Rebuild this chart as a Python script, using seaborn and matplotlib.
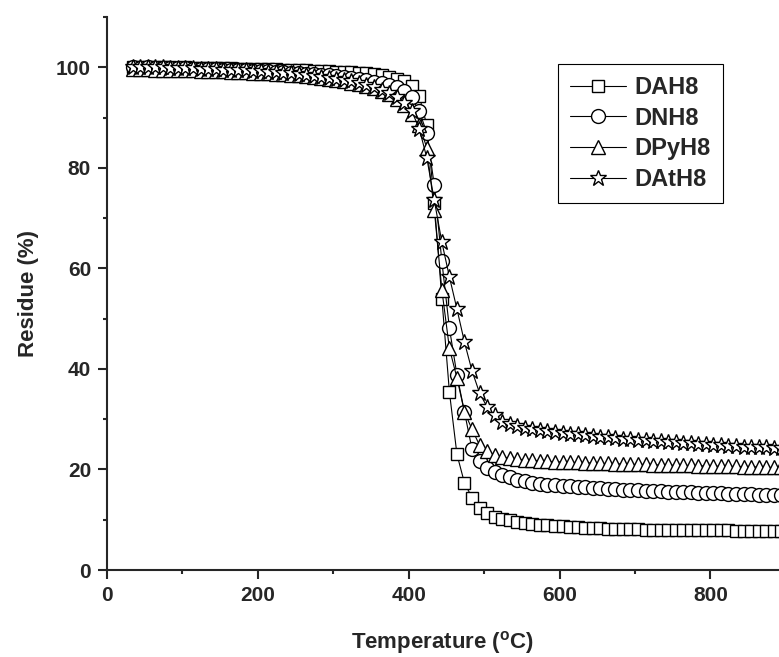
# TGA residue curves for the four H8 samples
import numpy as np
import pandas as pd
import matplotlib
matplotlib.use('Agg')
import matplotlib.pyplot as plt
from matplotlib.lines import Line2D
from matplotlib.ticker import MultipleLocator
import seaborn as sns

# --- data ---
temperature = [34, 44, 54, 64, 74, 84, 94, 104, 114, 124,
               134, 144, 154, 164, 174, 184, 194, 204, 214, 224,
               234, 244, 254, 264, 274, 284, 294, 304, 314, 324,
               334, 344, 354, 364, 374, 384, 394, 404, 414, 424,
               434, 444, 454, 464, 474, 484, 494, 504, 514, 524,
               534, 544, 554, 564, 574, 584, 594, 604, 614, 624,
               634, 644, 654, 664, 674, 684, 694, 704, 714, 724,
               734, 744, 754, 764, 774, 784, 794, 804, 814, 824,
               834, 844, 854, 864, 874, 884, 894, 904]

dah8 = [100.0, 100.1, 100.0, 100.0, 100.1, 100.0, 99.9, 100.0, 99.9, 99.9,
        99.9, 99.8, 99.8, 99.8, 99.7, 99.7, 99.7, 99.6, 99.6, 99.6,
        99.5, 99.5, 99.4, 99.4, 99.3, 99.3, 99.2, 99.1, 99.1, 99.0,
        98.9, 98.8, 98.6, 98.4, 98.1, 97.7, 97.2, 96.3, 94.3, 88.5,
        73.0, 54.0, 35.4, 23.0, 17.3, 14.4, 12.4, 11.3, 10.6, 10.2,
        9.9, 9.6, 9.4, 9.2, 9.0, 8.9, 8.8, 8.7, 8.6, 8.5,
        8.4, 8.3, 8.3, 8.2, 8.2, 8.1, 8.1, 8.1, 8.0, 8.0,
        8.0, 8.0, 8.0, 7.9, 7.9, 7.9, 7.9, 7.9, 7.9, 7.9,
        7.8, 7.8, 7.8, 7.8, 7.8, 7.8, 7.8, 7.8]

dnh8 = [100.0, 99.9, 100.0, 99.9, 99.9, 99.8, 99.8, 99.8, 99.7, 99.7,
        99.6, 99.6, 99.5, 99.5, 99.4, 99.4, 99.3, 99.2, 99.2, 99.1,
        99.0, 98.9, 98.8, 98.7, 98.6, 98.5, 98.4, 98.2, 98.0, 97.8,
        97.6, 97.4, 97.1, 96.8, 96.5, 96.0, 95.3, 94.0, 91.3, 87.0,
        76.5, 61.4, 48.1, 38.8, 31.4, 24.0, 21.6, 20.3, 19.5, 18.9,
        18.4, 18.0, 17.7, 17.4, 17.2, 17.0, 16.9, 16.8, 16.7, 16.6,
        16.5, 16.4, 16.3, 16.2, 16.1, 16.0, 16.0, 15.9, 15.8, 15.8,
        15.7, 15.6, 15.6, 15.5, 15.5, 15.4, 15.4, 15.3, 15.3, 15.2,
        15.2, 15.1, 15.1, 15.0, 15.0, 14.9, 14.9, 14.8]

dpyh8 = [99.6, 99.6, 99.6, 99.5, 99.5, 99.5, 99.4, 99.4, 99.4, 99.3,
         99.3, 99.2, 99.2, 99.1, 99.1, 99.0, 98.9, 98.9, 98.8, 98.7,
         98.6, 98.5, 98.4, 98.3, 98.1, 97.9, 97.7, 97.5, 97.2, 96.9,
         96.6, 96.2, 95.8, 95.3, 94.6, 93.7, 92.5, 90.8, 88.5, 84.0,
         71.6, 55.7, 44.1, 38.2, 31.4, 28.0, 24.8, 23.6, 22.9, 22.5,
         22.2, 22.0, 21.9, 21.8, 21.7, 21.6, 21.5, 21.5, 21.4, 21.4,
         21.3, 21.3, 21.2, 21.2, 21.1, 21.1, 21.0, 21.0, 21.0, 20.9,
         20.9, 20.9, 20.8, 20.8, 20.8, 20.7, 20.7, 20.7, 20.6, 20.6,
         20.6, 20.5, 20.5, 20.5, 20.4, 20.4, 20.4, 20.3]

dath8 = [100.0, 100.1, 100.0, 100.1, 100.0, 99.9, 99.9, 99.8, 99.8, 99.7,
         99.6, 99.6, 99.5, 99.5, 99.4, 99.4, 99.3, 99.2, 99.1, 99.0,
         98.9, 98.8, 98.6, 98.5, 98.3, 98.1, 97.9, 97.7, 97.5, 97.2,
         96.9, 96.5, 96.0, 95.5, 94.8, 94.0, 92.9, 91.3, 87.8, 82.0,
         73.5, 65.2, 58.3, 51.9, 45.3, 39.6, 35.2, 32.4, 30.8, 29.5,
         29.0, 28.6, 28.3, 28.0, 27.8, 27.6, 27.4, 27.2, 27.1, 27.0,
         26.8, 26.7, 26.5, 26.4, 26.2, 26.1, 26.0, 25.9, 25.8, 25.7,
         25.6, 25.5, 25.4, 25.3, 25.2, 25.1, 25.0, 24.9, 24.8, 24.7,
         24.6, 24.5, 24.5, 24.4, 24.4, 24.3, 24.3, 24.2]

samples = ['DAH8', 'DNH8', 'DPyH8', 'DAtH8']
markers = {'DAH8': 's', 'DNH8': 'o', 'DPyH8': '^', 'DAtH8': '*'}
marker_sizes = {'DAH8': 9, 'DNH8': 10, 'DPyH8': 10, 'DAtH8': 12}

df = pd.DataFrame({
    'Temperature': temperature * 4,
    'Residue': dah8 + dnh8 + dpyh8 + dath8,
    'Sample': np.repeat(samples, len(temperature)),
})

# --- style ---
sns.set_style('ticks')
plt.rcParams['font.family'] = ['Liberation Sans', 'DejaVu Sans']
plt.rcParams['font.weight'] = 'bold'
plt.rcParams['mathtext.fontset'] = 'custom'
plt.rcParams['mathtext.rm'] = 'Liberation Sans:bold'

fig = plt.figure(figsize=(7.79, 6.57), dpi=100)
# the original is cropped on the right, so the axes simply ends at the figure edge
ax = fig.add_axes([107 / 779, 87 / 657, 672 / 779, 553 / 657])

for s in samples:
    sns.lineplot(data=df[df['Sample'] == s], x='Temperature', y='Residue',
                 color='black', lw=0.8, marker=markers[s], ms=marker_sizes[s],
                 mfc='white', mec='black', mew=1.0, errorbar=None,
                 legend=False, ax=ax)

ax.set_xlim(0, 891)
ax.set_ylim(0, 110)
ax.xaxis.set_major_locator(MultipleLocator(200))
ax.xaxis.set_minor_locator(MultipleLocator(100))
ax.yaxis.set_major_locator(MultipleLocator(20))
ax.yaxis.set_minor_locator(MultipleLocator(10))
ax.tick_params(which='major', direction='out', length=6.5, width=1.5,
               labelsize=15, pad=5)
ax.tick_params(which='minor', direction='out', length=3, width=1.5)

sns.despine(ax=ax)
for side in ['left', 'bottom']:
    ax.spines[side].set_linewidth(1.5)

ax.set_xlabel('Temperature ($^\\mathrm{o}$C)', fontsize=16, fontweight='bold', labelpad=17)
ax.set_ylabel('Residue (%)', fontsize=16, fontweight='bold', labelpad=12)

handles = [Line2D([], [], color='black', lw=0.8, marker=markers[s], ms=marker_sizes[s],
                  mfc='white', mec='black', mew=1.0) for s in samples]
leg = ax.legend(handles, samples, loc='upper left',
                bbox_to_anchor=(558 / 779, 1 - 64 / 657), bbox_transform=fig.transFigure,
                frameon=True, fancybox=False, edgecolor='black', framealpha=1,
                fontsize=17, handlelength=2.4, handletextpad=0.35, borderpad=0.5,
                borderaxespad=0, labelspacing=0.33)
leg.get_frame().set_linewidth(0.8)

fig.savefig('out.png', dpi=100)
